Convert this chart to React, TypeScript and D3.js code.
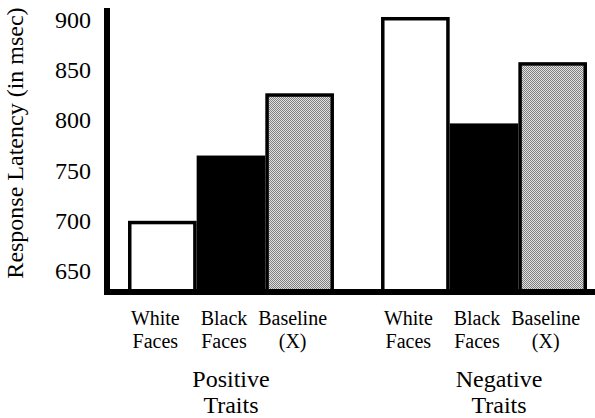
import React from "react";
import * as d3 from "d3";

const groups = ["Positive Traits", "Negative Traits"];
const conditions = ["White Faces", "Black Faces", "Baseline (X)"];
const positiveValues = [700, 765, 827];
const negativeValues = [903, 797, 858];
const yTicks = [650, 700, 750, 800, 850, 900];

const groupLines: Record<string, string[]> = {
  "Positive Traits": ["Positive", "Traits"],
  "Negative Traits": ["Negative", "Traits"],
};
const conditionLines: Record<string, string[]> = {
  "White Faces": ["White", "Faces"],
  "Black Faces": ["Black", "Faces"],
  "Baseline (X)": ["Baseline", "(X)"],
};

const W = 595;
const H = 418;
const font = '"Liberation Serif", "Times New Roman", serif';

export default function App() {
  const y = d3.scaleLinear().domain([650, 900]).range([271, 20]);
  const x0 = d3.scaleBand<string>().domain(groups).range([128, 587]).paddingInner(0.186);
  const x1 = d3.scaleBand<string>().domain(conditions).range([0, x0.bandwidth()]);

  const series = [positiveValues, negativeValues];
  const baseY = 291;
  const sw = 3.5;

  return (
    <div style={{ position: "absolute", left: 0, top: 0 }}>
      <svg width={W} height={H} style={{ display: "block", background: "#fff", fontFamily: font }}>
        <defs>
          <pattern id="stipple" width={2} height={2} patternUnits="userSpaceOnUse">
            <rect width={2} height={2} fill="#e2e2e2" />
            <rect width={1} height={1} fill="#808080" />
            <rect x={1} y={1} width={1} height={1} fill="#808080" />
          </pattern>
        </defs>

        {groups.map((g, gi) =>
          conditions.map((c, ci) => {
            const v = series[gi][ci];
            const bx = (x0(g) ?? 0) + (x1(c) ?? 0);
            const bw = x1.bandwidth();
            const top = y(v);
            if (ci === 1) {
              return (
                <rect key={g + c} x={bx} y={top} width={bw} height={baseY - top} fill="#000" />
              );
            }
            return (
              <rect
                key={g + c}
                x={bx + sw / 2}
                y={top + sw / 2}
                width={bw - sw}
                height={baseY - top - sw / 2}
                fill={ci === 0 ? "#fff" : "url(#stipple)"}
                stroke="#000"
                strokeWidth={sw}
              />
            );
          })
        )}

        {/* axis frame */}
        <rect x={104} y={8} width={6} height={287} fill="#000" />
        <rect x={104} y={289} width={W - 104} height={6} fill="#000" />

        {yTicks.map((t) => (
          <text
            key={t}
            x={91}
            y={y(t)}
            dy="0.33em"
            textAnchor="end"
            style={{ fontFamily: font, fontSize: 24 }}
            fill="#000"
          >
            {t}
          </text>
        ))}

        <text
          transform={`translate(23,143) rotate(-90)`}
          textAnchor="middle"
          style={{ fontFamily: font, fontSize: 24 }}
          fill="#000"
        >
          Response Latency (in msec)
        </text>

        {groups.map((g) =>
          conditions.map((c) => {
            const cx = (x0(g) ?? 0) + (x1(c) ?? 0) + x1.bandwidth() / 2 - 7;
            return (
              <text key={"l" + g + c} textAnchor="middle" style={{ fontFamily: font, fontSize: 20 }} fill="#000">
                {conditionLines[c].map((line, i) => (
                  <tspan key={i} x={cx} y={325 + i * 23}>
                    {line}
                  </tspan>
                ))}
              </text>
            );
          })
        )}

        {groups.map((g, gi) => {
          const cx = (x0(g) ?? 0) + x0.bandwidth() / 2 + (gi === 1 ? 15 : 0);
          return (
            <text key={"g" + g} textAnchor="middle" style={{ fontFamily: font, fontSize: 24 }} fill="#000">
              {groupLines[g].map((line, i) => (
                <tspan key={i} x={cx} y={387 + i * 26}>
                  {line}
                </tspan>
              ))}
            </text>
          );
        })}
      </svg>
    </div>
  );
}
